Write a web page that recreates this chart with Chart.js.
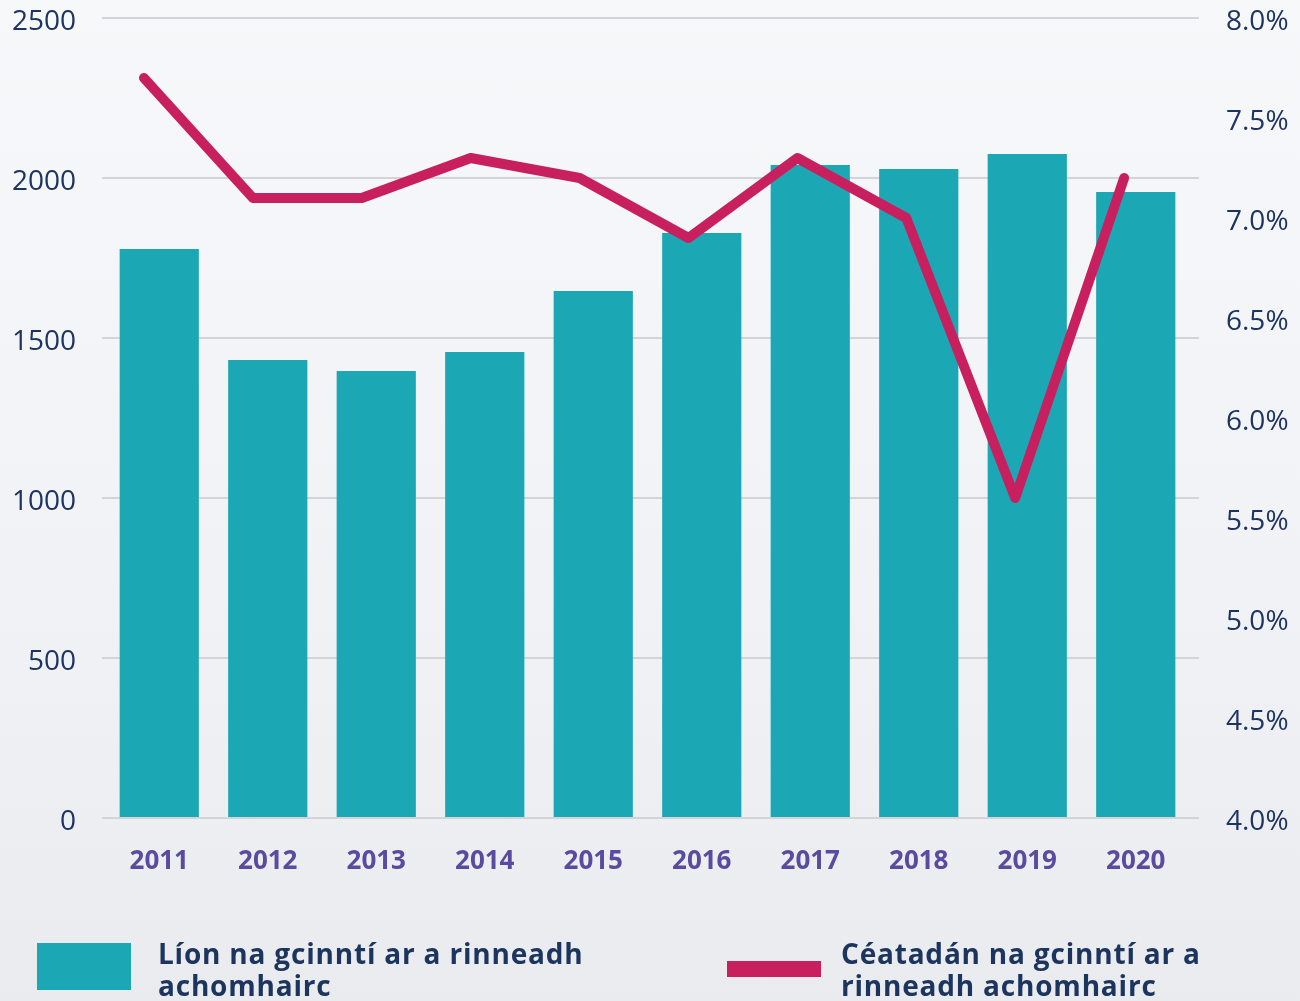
<!DOCTYPE html>
<html>
<head>
<meta charset="utf-8">
<script src="https://cdn.jsdelivr.net/npm/chart.js@4/dist/chart.umd.min.js"></script>
<style>
  html, body { margin: 0; padding: 0; }
  body {
    width: 1300px; height: 1001px; overflow: hidden; position: relative;
    background: linear-gradient(to bottom, #f7f8fa 0%, #f1f2f5 60%, #eaebef 100%);
  }
  #wrap { position: absolute; left: 0; top: 0; width: 1300px; height: 1001px; }
  #legend { position: absolute; left: 0; top: 0; width: 1300px; height: 1001px; pointer-events: none; }
  .lg-swatch { position: absolute; }
  .lg-text {
    position: absolute; color: #1b355e; font-family: "Open Sans", sans-serif;
    font-weight: 700; font-size: 28px; line-height: 32px; letter-spacing: 0.8px;
  }
</style>
</head>
<body>
<div id="wrap"><canvas id="chart" width="1300" height="1001"></canvas></div>
<div id="legend"></div>
<script>
// Years on the category axis
const years = ['2011', '2012', '2013', '2014', '2015', '2016', '2017', '2018', '2019', '2020'];
// Number of decisions appealed (bars, left axis)
const appealCounts = [1778, 1431, 1397, 1456, 1647, 1828, 2041, 2028, 2075, 1956];
// Percentage of decisions appealed (line, right axis)
const appealPercent = [7.7, 7.1, 7.1, 7.3, 7.2, 6.9, 7.3, 7.0, 5.6, 7.2];
// Series names
const seriesLabels = ['Líon na gcinntí ar a rinneadh achomhairc', 'Céatadán na gcinntí ar a rinneadh achomhairc'];
// Axis tick values
const countTicks = [0, 500, 1000, 1500, 2000, 2500];
const percentTicks = [4.0, 4.5, 5.0, 5.5, 6.0, 6.5, 7.0, 7.5, 8.0];

const TEAL = '#1ca7b5';
const CRIMSON = '#c81f5e';
const NAVY = '#1d3461';
const PURPLE = '#5b4b9f';
const GRID = '#d3d4d8';
const tickFont = { family: '"Open Sans", sans-serif', size: 28, weight: '400', lineHeight: 1.0 };

const linePoints = appealPercent.map((v, i) => ({ x: i, y: v }));

// Keep the plot top at 18px regardless of the tick label padding
const fixVertical = s => { s.paddingTop = 18; s.paddingBottom = 0; };

const chart = new Chart(document.getElementById('chart'), {
  type: 'bar',
  data: {
    labels: years,
    datasets: [
      {
        type: 'line',
        label: seriesLabels[1],
        data: linePoints,
        xAxisID: 'xl',
        yAxisID: 'yp',
        borderColor: CRIMSON,
        backgroundColor: CRIMSON,
        borderWidth: 10,
        borderCapStyle: 'round',
        borderJoinStyle: 'round',
        pointRadius: 0,
        tension: 0,
        order: 0
      },
      {
        type: 'bar',
        label: seriesLabels[0],
        data: appealCounts,
        xAxisID: 'x',
        yAxisID: 'y',
        backgroundColor: TEAL,
        grouped: false,
        barPercentage: 0.73,
        categoryPercentage: 1.0,
        order: 1
      }
    ]
  },
  options: {
    responsive: false,
    animation: false,
    events: [],
    layout: { padding: 0 },
    plugins: { legend: { display: false }, tooltip: { enabled: false } },
    scales: {
      x: {
        type: 'category',
        offset: true,
        grid: { display: false },
        border: { display: false },
        ticks: {
          color: PURPLE,
          font: { family: '"Open Sans", sans-serif', size: 26, weight: '700' },
          padding: 20,
          maxRotation: 0
        },
        afterFit: s => { s.height = 183; }
      },
      xl: {
        type: 'linear',
        display: false,
        offset: false,
        min: -0.358,
        max: 9.605
      },
      y: {
        type: 'linear',
        position: 'left',
        min: 0,
        max: 2500,
        afterBuildTicks: s => { s.ticks = countTicks.map(v => ({ value: v })); },
        grid: { color: GRID, lineWidth: 2, drawTicks: true, tickLength: 3, tickColor: GRID },
        border: { display: false },
        ticks: { color: NAVY, font: tickFont, padding: 26, labelOffset: 4, callback: v => String(v) },
        afterFit: s => { s.width = 105; fixVertical(s); }
      },
      yGrid: {
        type: 'linear',
        position: 'right',
        weight: 0,
        min: 0,
        max: 2500,
        afterBuildTicks: s => { s.ticks = countTicks.map(v => ({ value: v })); },
        grid: { drawOnChartArea: false, drawTicks: true, tickLength: 9, tickColor: GRID, lineWidth: 2, color: GRID },
        border: { display: false },
        ticks: { display: false },
        afterFit: s => { s.width = 9; fixVertical(s); }
      },
      yp: {
        type: 'linear',
        position: 'right',
        weight: 1,
        min: 4,
        max: 8,
        afterBuildTicks: s => { s.ticks = percentTicks.map(v => ({ value: v })); },
        grid: { display: false, drawTicks: false },
        border: { display: false },
        ticks: {
          color: NAVY, font: tickFont, padding: 27, labelOffset: 4,
          callback: v => Number(v).toFixed(1) + '%'
        },
        afterFit: s => { s.width = 101; fixVertical(s); }
      }
    }
  }
});

// Legend below the plot, built from the chart's datasets
const legendLayout = [
  { ds: 1, swatch: { left: 37, top: 943, width: 94, height: 47 }, text: { left: 158, top: 937, width: 480 } },
  { ds: 0, swatch: { left: 727, top: 961, width: 94, height: 16 }, text: { left: 841, top: 937, width: 410 } }
];
const legendEl = document.getElementById('legend');
legendLayout.forEach(item => {
  const ds = chart.data.datasets[item.ds];
  const sw = document.createElement('div');
  sw.className = 'lg-swatch';
  Object.assign(sw.style, {
    left: item.swatch.left + 'px', top: item.swatch.top + 'px',
    width: item.swatch.width + 'px', height: item.swatch.height + 'px',
    background: ds.type === 'line' ? ds.borderColor : ds.backgroundColor
  });
  const tx = document.createElement('div');
  tx.className = 'lg-text';
  Object.assign(tx.style, { left: item.text.left + 'px', top: item.text.top + 'px', width: item.text.width + 'px' });
  tx.textContent = ds.label;
  legendEl.appendChild(sw);
  legendEl.appendChild(tx);
});
</script>
</body>
</html>
